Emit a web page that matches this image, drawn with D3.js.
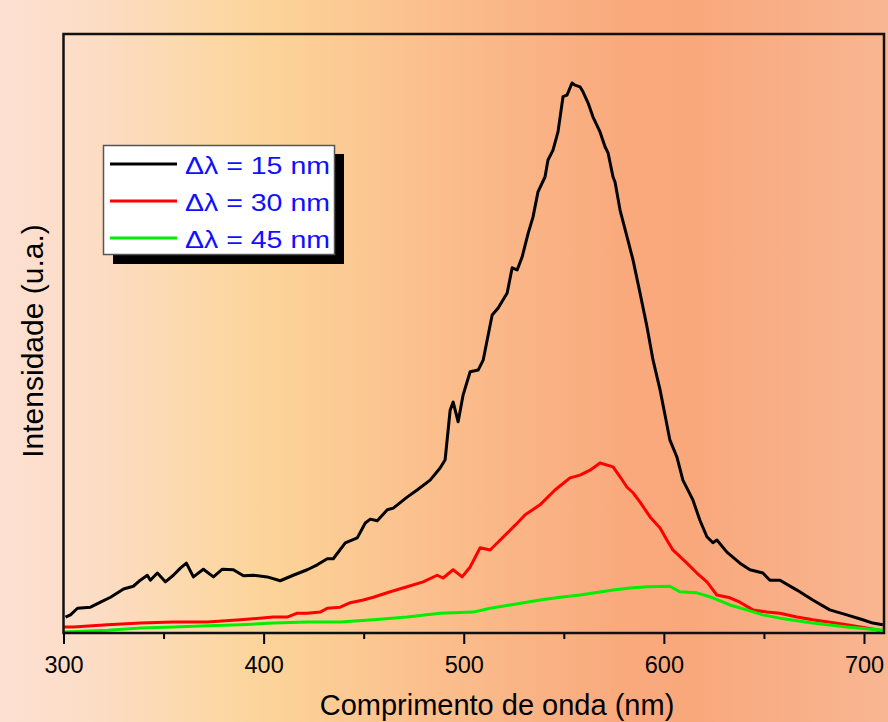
<!DOCTYPE html>
<html>
<head>
<meta charset="utf-8">
<script src="https://cdn.jsdelivr.net/npm/d3@7.9.0/dist/d3.min.js"></script>
<style>
  body { margin: 0; background: #fff; }
  svg { display: block; font-family: "Liberation Sans", Arial, sans-serif; }
</style>
</head>
<body>
<svg id="chart" width="888" height="722"></svg>
<script>
// Spectra: wavelength (nm) and intensity (a.u., black peak = 1)
const wl15 = [301.0, 303.5, 307.0, 313.5, 318.5, 323.5, 330.0, 334.9, 338.4, 341.9, 343.4, 346.9, 350.9, 354.9, 358.4, 361.4, 364.9, 369.9, 374.9, 379.4, 384.9, 389.9, 394.9, 401.8, 408.3, 414.8, 421.8, 426.8, 431.8, 434.8, 440.8, 446.8, 450.8, 453.3, 456.8, 461.8, 464.8, 471.7, 476.7, 483.2, 488.2, 490.7, 493.2, 494.7, 497.2, 499.7, 503.2, 507.2, 509.7, 514.2, 517.2, 521.7, 524.2, 526.7, 529.2, 532.2, 534.6, 537.1, 540.6, 542.1, 544.6, 547.1, 549.6, 551.6, 554.1, 555.6, 558.1, 559.6, 562.1, 564.6, 568.1, 570.6, 572.1, 574.6, 575.6, 578.1, 581.6, 584.6, 588.1, 591.6, 594.6, 598.1, 600.6, 603.0, 606.5, 609.5, 614.5, 618.0, 621.5, 624.5, 626.5, 631.5, 638.0, 643.0, 649.5, 653.0, 658.0, 666.5, 674.4, 682.9, 691.4, 699.4, 704.4, 709.4];
const int15 = [0.029, 0.033, 0.045, 0.047, 0.056, 0.065, 0.080, 0.085, 0.096, 0.105, 0.096, 0.109, 0.093, 0.105, 0.118, 0.127, 0.102, 0.116, 0.102, 0.116, 0.115, 0.104, 0.105, 0.102, 0.095, 0.105, 0.115, 0.124, 0.135, 0.135, 0.164, 0.173, 0.200, 0.207, 0.204, 0.224, 0.227, 0.247, 0.260, 0.278, 0.300, 0.315, 0.405, 0.420, 0.384, 0.433, 0.475, 0.478, 0.496, 0.578, 0.591, 0.618, 0.664, 0.660, 0.684, 0.727, 0.756, 0.802, 0.829, 0.860, 0.878, 0.911, 0.975, 0.978, 1.000, 0.996, 0.993, 0.984, 0.964, 0.938, 0.911, 0.884, 0.873, 0.829, 0.820, 0.769, 0.720, 0.678, 0.618, 0.556, 0.496, 0.442, 0.396, 0.351, 0.320, 0.278, 0.242, 0.205, 0.175, 0.164, 0.169, 0.147, 0.127, 0.115, 0.109, 0.096, 0.096, 0.078, 0.060, 0.042, 0.033, 0.024, 0.018, 0.015];

const wl30 = [300.0, 305.0, 322.0, 338.4, 354.9, 371.9, 388.4, 404.8, 411.8, 416.8, 421.8, 428.3, 431.8, 438.3, 443.3, 449.8, 454.8, 463.3, 471.7, 479.7, 486.7, 489.7, 494.7, 499.2, 503.2, 508.2, 513.2, 515.7, 520.7, 525.7, 530.7, 538.1, 545.6, 553.1, 558.1, 563.1, 568.1, 574.6, 578.1, 581.6, 584.6, 588.1, 593.1, 598.1, 601.5, 604.5, 611.5, 616.5, 621.5, 626.5, 633.0, 638.0, 644.5, 651.5, 658.0, 666.5, 674.4, 691.4, 707.9];
const int30 = [0.011, 0.011, 0.015, 0.018, 0.020, 0.020, 0.024, 0.029, 0.029, 0.036, 0.036, 0.038, 0.045, 0.047, 0.055, 0.060, 0.065, 0.075, 0.084, 0.093, 0.105, 0.100, 0.115, 0.102, 0.120, 0.155, 0.151, 0.160, 0.178, 0.196, 0.215, 0.233, 0.260, 0.282, 0.287, 0.296, 0.309, 0.302, 0.284, 0.265, 0.255, 0.238, 0.211, 0.191, 0.169, 0.151, 0.127, 0.109, 0.093, 0.069, 0.064, 0.056, 0.042, 0.038, 0.036, 0.029, 0.024, 0.015, 0.005];

const wl45 = [300.0, 322.0, 338.4, 354.9, 371.9, 388.4, 404.8, 421.8, 438.3, 454.8, 471.7, 488.2, 504.7, 513.2, 523.2, 538.1, 548.1, 558.1, 574.6, 583.1, 591.6, 603.0, 608.0, 616.5, 624.5, 633.0, 641.5, 649.5, 658.0, 674.4, 691.4, 709.4];
const int45 = [0.002, 0.005, 0.009, 0.011, 0.013, 0.015, 0.018, 0.020, 0.020, 0.024, 0.029, 0.036, 0.038, 0.045, 0.051, 0.060, 0.065, 0.069, 0.078, 0.082, 0.084, 0.085, 0.075, 0.073, 0.064, 0.051, 0.042, 0.033, 0.027, 0.018, 0.011, 0.005];

const seriesNames = ["\u0394\u03bb = 15 nm", "\u0394\u03bb = 30 nm", "\u0394\u03bb = 45 nm"];
const seriesColors = ["#000000", "#ff0000", "#00ee00"];
const majorTicks = [300, 400, 500, 600, 700];
const minorTicks = [350, 450, 550, 650];

const svg = d3.select("#chart");
const W = 888, H = 722;
const plot = { left: 63.5, top: 34, right: 884, bottom: 633 };

// background gradient, pale pink -> yellow -> salmon
const grad = svg.append("defs").append("linearGradient")
  .attr("id", "bg").attr("x1", "0").attr("x2", "1").attr("y1", "0").attr("y2", "0");
[[0, "#fde0d3"], [0.12, "#fcdcc2"], [0.24, "#fcd8a6"], [0.3, "#fcd49a"], [0.45, "#fbc38f"],
 [0.58, "#fab586"], [0.7, "#f9aa7d"], [0.78, "#f9a87c"], [1, "#f8b692"]]
  .forEach(([o, c]) => grad.append("stop").attr("offset", o).attr("stop-color", c));
svg.append("rect").attr("width", W).attr("height", H).attr("fill", "url(#bg)");

const x = d3.scaleLinear().domain([300, 710]).range([plot.left, plot.right]);
const y = d3.scaleLinear().domain([0, 1.089]).range([plot.bottom, plot.top]);

// x axis: major + minor ticks pointing out
const xMajor = svg.append("g")
  .attr("transform", `translate(0,${plot.bottom})`)
  .call(d3.axisBottom(x).tickValues(majorTicks).tickSize(11).tickPadding(12).tickFormat(d3.format("d")));
xMajor.select(".domain").remove();
xMajor.selectAll(".tick line").attr("stroke", "#000").attr("stroke-width", 2);
xMajor.selectAll(".tick text")
  .attr("fill", "#000").style("font-size", "23.5px")
  .style("font-family", "'Liberation Sans', Arial, sans-serif");

const xMinor = svg.append("g")
  .attr("transform", `translate(0,${plot.bottom})`)
  .call(d3.axisBottom(x).tickValues(minorTicks).tickSize(6).tickFormat(""));
xMinor.select(".domain").remove();
xMinor.selectAll(".tick line").attr("stroke", "#000").attr("stroke-width", 2);

// curves
const line = d3.line().x(d => x(d[0])).y(d => y(d[1]));
const series = [
  d3.zip(wl15, int15),
  d3.zip(wl30, int30),
  d3.zip(wl45, int45)
];
series.forEach((s, i) => {
  svg.append("path")
    .datum(s)
    .attr("d", line)
    .attr("fill", "none")
    .attr("stroke", seriesColors[i])
    .attr("stroke-width", 3)
    .attr("stroke-linejoin", "round");
});

// frame
svg.append("rect")
  .attr("x", plot.left).attr("y", plot.top)
  .attr("width", plot.right - plot.left).attr("height", plot.bottom - plot.top)
  .attr("fill", "none").attr("stroke", "#111").attr("stroke-width", 2.5);

// axis titles
svg.append("text")
  .attr("x", 497).attr("y", 715)
  .attr("text-anchor", "middle")
  .style("font-size", "29px")
  .text("Comprimento de onda (nm)");

svg.append("text")
  .attr("transform", "translate(43,341) rotate(-90)")
  .attr("text-anchor", "middle")
  .style("font-size", "30px")
  .text("Intensidade (u.a.)");

// legend with drop shadow
const lg = svg.append("g");
lg.append("rect").attr("x", 113).attr("y", 154).attr("width", 231).attr("height", 110).attr("fill", "#000");
lg.append("rect").attr("x", 103.5).attr("y", 145.5).attr("width", 231).attr("height", 109)
  .attr("fill", "#fff").attr("stroke", "#555").attr("stroke-width", 1.5);
seriesNames.forEach((name, i) => {
  const ly = 164 + i * 37;
  lg.append("line").attr("x1", 110).attr("x2", 177).attr("y1", ly).attr("y2", ly)
    .attr("stroke", seriesColors[i]).attr("stroke-width", 3);
  lg.append("text").attr("x", 185).attr("y", ly + 9.5)
    .attr("fill", "#1010ff")
    .attr("textLength", 145).attr("lengthAdjust", "spacingAndGlyphs")
    .style("font-size", "24.5px")
    .text(name);
});
</script>
</body>
</html>
